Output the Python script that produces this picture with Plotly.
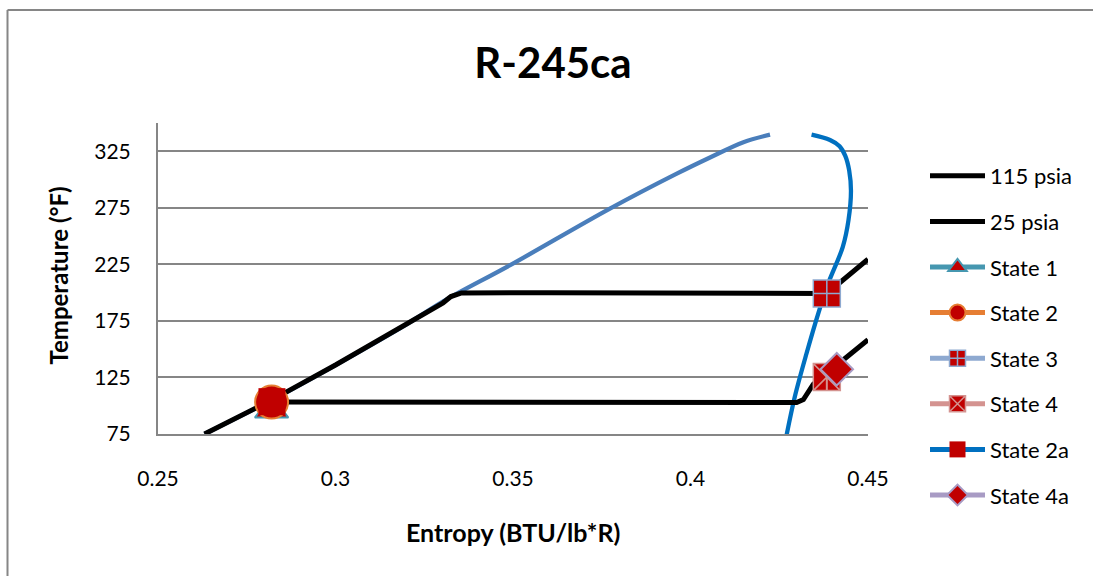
import plotly.graph_objects as go

# ---------------- data ----------------
# saturated liquid line of the dome
s_liquid = [0.2631, 0.2820, 0.3000, 0.3200, 0.3313, 0.3492, 0.3773, 0.3960, 0.4055, 0.4149, 0.4224]
T_liquid = [75, 105, 136, 172, 194, 224.3, 274.3, 305.0, 319.5, 333.0, 339.7]

# saturated vapour line of the dome
s_vapor = [0.4341, 0.4393, 0.4420, 0.4436, 0.4447, 0.4452, 0.4445, 0.4429, 0.4388, 0.4360, 0.4327, 0.4294, 0.4271]
T_vapor = [339.8, 335.0, 329.5, 321.0, 308.0, 290.0, 264.0, 240.5, 208.2, 181.7, 146.4, 108.2, 74.5]

# 115 psia isobar
s_115 = [0.2631, 0.2820, 0.3000, 0.3200, 0.3303, 0.3325, 0.3355, 0.3600, 0.4000, 0.4384, 0.4500]
T_115 = [75, 105, 136, 172, 191, 196.5, 199.7, 200.0, 199.6, 199.3, 229.5]

# 25 psia isobar
s_25 = [0.2820, 0.3500, 0.4299, 0.4318, 0.4346, 0.4500]
T_25 = [103.2, 103.1, 102.9, 105.5, 119.0, 158.3]

# state points
state_names = ["State 1", "State 2", "State 3", "State 4", "State 2a", "State 4a"]
state_s = [0.2820, 0.2820, 0.4384, 0.4384, 0.2821, 0.4412]
state_T = [96.0, 103.2, 199.3, 125.3, 103.6, 132.3]

x_ticks = [0.25, 0.30, 0.35, 0.40, 0.45]
x_tick_labels = ["0.25", "0.3", "0.35", "0.4", "0.45"]
y_ticks = [75, 125, 175, 225, 275, 325]
y_tick_labels = ["75", "125", "175", "225", "275", "325"]

# ---------------- styles ----------------
FONT = "Lato"
RED = "#C00000"
state_styles = {
    "State 1": dict(symbol="triangle-up", size=29, line_color="#4697B0", lw=2),
    "State 2": dict(symbol="circle", size=33, line_color="#E67E33", lw=2),
    "State 3": dict(symbol="square-cross", size=27, line_color="#8EA9D0", lw=1.5),
    "State 4": dict(symbol="square-x", size=27, line_color="#D49390", lw=1.5),
    "State 2a": dict(symbol="square", size=27, line_color="#0070C0", lw=0),
    "State 4a": dict(symbol="diamond", size=25, line_color="#A89BC4", lw=2),
}

fig = go.Figure()

# dome
fig.add_trace(go.Scatter(x=s_liquid, y=T_liquid, mode="lines", showlegend=False,
                         line=dict(color="#4A7EBB", width=4.3, shape="spline", smoothing=1.0),
                         hoverinfo="skip"))
fig.add_trace(go.Scatter(x=s_vapor, y=T_vapor, mode="lines", showlegend=False,
                         line=dict(color="#0070C0", width=4.3, shape="spline", smoothing=1.0),
                         hoverinfo="skip"))

# isobars
fig.add_trace(go.Scatter(x=s_115, y=T_115, mode="lines", name="115 psia", legendgroup="115",
                         line=dict(color="black", width=5)))
fig.add_trace(go.Scatter(x=s_25, y=T_25, mode="lines", name="25 psia", legendgroup="25",
                         line=dict(color="black", width=5)))

# states
for name, s, T in zip(state_names, state_s, state_T):
    st = state_styles[name]
    fig.add_trace(go.Scatter(
        x=[s], y=[T], mode="lines+markers", name=name, legendgroup=name,
        line=dict(color=st["line_color"], width=5),
        marker=dict(symbol=st["symbol"], size=st["size"], color=RED,
                    line=dict(color=st["line_color"], width=st["lw"])),
    ))
    if name == "State 4":
        fig.add_trace(go.Scatter(
            x=[s], y=[T], mode="markers", legendgroup=name, showlegend=False,
            marker=dict(symbol="line-ns", size=19,
                        line=dict(color=st["line_color"], width=2)),
            hoverinfo="skip"))

L, R, T_M, B = 158, 225, 123, 142
PW = 1093 - L - R
PH = 576 - T_M - B


def px_x(px):
    return (px - L) / PW


def px_y(py):
    return (576 - B - py) / PH


fig.update_layout(
    width=1093, height=576,
    margin=dict(l=L, r=R, t=T_M, b=B),
    paper_bgcolor="white", plot_bgcolor="white",
    font=dict(family=FONT, color="black", size=21),
    title=dict(text="R-245ca", x=553 / 1093, xanchor="center", xref="container",
               y=1 - 63 / 576, yanchor="middle", yref="container",
               font=dict(family=FONT, size=42, weight="bold", color="black")),
    xaxis=dict(range=[0.25, 0.45], tickvals=x_ticks, ticktext=x_tick_labels,
               showgrid=False, zeroline=False, showline=True, linecolor="#868686",
               linewidth=2, ticks="", ticklabelstandoff=25,
               tickfont=dict(family=FONT, size=21, color="black")),
    yaxis=dict(range=[75, 350], tickvals=y_ticks, ticktext=y_tick_labels,
               showgrid=True, gridcolor="#868686", gridwidth=1.5, zeroline=False,
               showline=True, linecolor="#868686", linewidth=2, ticks="",
               ticklabelstandoff=21,
               tickfont=dict(family=FONT, size=21, color="black")),
    legend=dict(x=px_x(925), xanchor="left", y=px_y(155), yanchor="top",
                traceorder="grouped", tracegroupgap=14, itemwidth=55, maxheight=600,
                font=dict(family=FONT, size=22, color="black"),
                bgcolor="rgba(0,0,0,0)"),
    showlegend=True,
    annotations=[
        dict(text="Temperature (°F)", xref="paper", yref="paper", x=0, y=0.5,
             xanchor="center", yanchor="middle", xshift=58 - L, yshift=3, textangle=-90,
             showarrow=False, font=dict(family=FONT, size=24, weight="bold", color="black")),
        dict(text="Entropy (BTU/lb*R)", xref="paper", yref="paper", x=0.5, y=0,
             xanchor="center", yanchor="middle", yshift=-(532 - (576 - B)),
             showarrow=False, font=dict(family=FONT, size=25, weight="bold", color="black")),
    ],
    shapes=[
        # chart-area border (left and top edges are visible in the reference)
        dict(type="line", xref="paper", yref="paper",
             x0=px_x(7.5), x1=px_x(7.5), y0=px_y(10), y1=px_y(576),
             line=dict(color="#868686", width=2), layer="below"),
        dict(type="line", xref="paper", yref="paper",
             x0=px_x(7.5), x1=px_x(1093), y0=px_y(10), y1=px_y(10),
             line=dict(color="#868686", width=2), layer="below"),
    ],
)

fig.write_html("out.html")
